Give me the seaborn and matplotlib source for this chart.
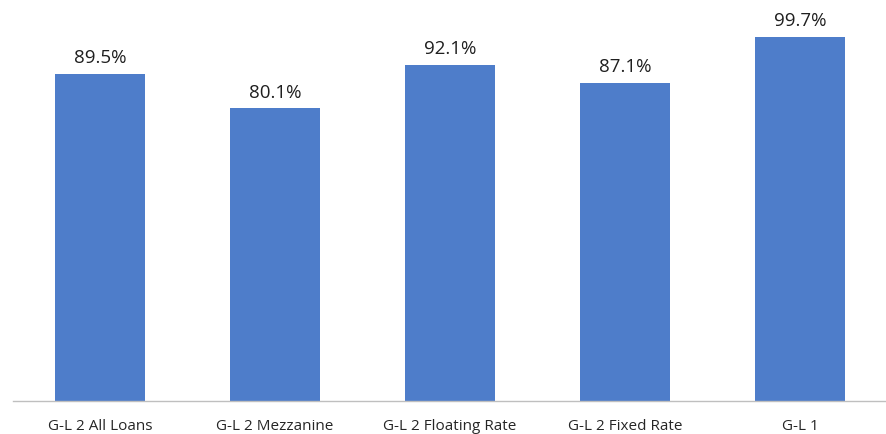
import matplotlib
matplotlib.use("Agg")
import matplotlib.pyplot as plt
import seaborn as sns
import pandas as pd

categories = ["G-L 2 All Loans", "G-L 2 Mezzanine", "G-L 2 Floating Rate",
              "G-L 2 Fixed Rate", "G-L 1"]
values = [89.5, 80.1, 92.1, 87.1, 99.7]
value_labels = ["89.5%", "80.1%", "92.1%", "87.1%", "99.7%"]

sns.set_style("white")
plt.rcParams["font.family"] = ["Open Sans", "DejaVu Sans"]

df = pd.DataFrame({"category": categories, "value": values})

fig = plt.figure(figsize=(8.87, 4.34), dpi=100)
ax = fig.add_axes([12.5 / 887, 33 / 434, 875 / 887, 401 / 434])

sns.barplot(data=df, x="category", y="value", color="#4E7DCA",
            saturation=1, width=0.514, linewidth=0, ax=ax)

ax.set_ylim(0, 109.8)
ax.set_xlim(-0.5, len(categories) - 0.5)
ax.set_xlabel("")
ax.set_ylabel("")
ax.set_yticks([])

for spine in ["top", "right", "left"]:
    ax.spines[spine].set_visible(False)
ax.spines["bottom"].set_color("#BFBFBF")
ax.spines["bottom"].set_linewidth(1.0)

ax.tick_params(axis="x", length=0, pad=13, labelsize=11, labelcolor="#262626")

for patch, label in zip(ax.patches, value_labels):
    ax.annotate(label, (patch.get_x() + patch.get_width() / 2, patch.get_height()),
                xytext=(0, 5), textcoords="offset points",
                ha="center", va="bottom", fontsize=13.5, color="#1F1F1F")

fig.savefig("out.png", dpi=100)
